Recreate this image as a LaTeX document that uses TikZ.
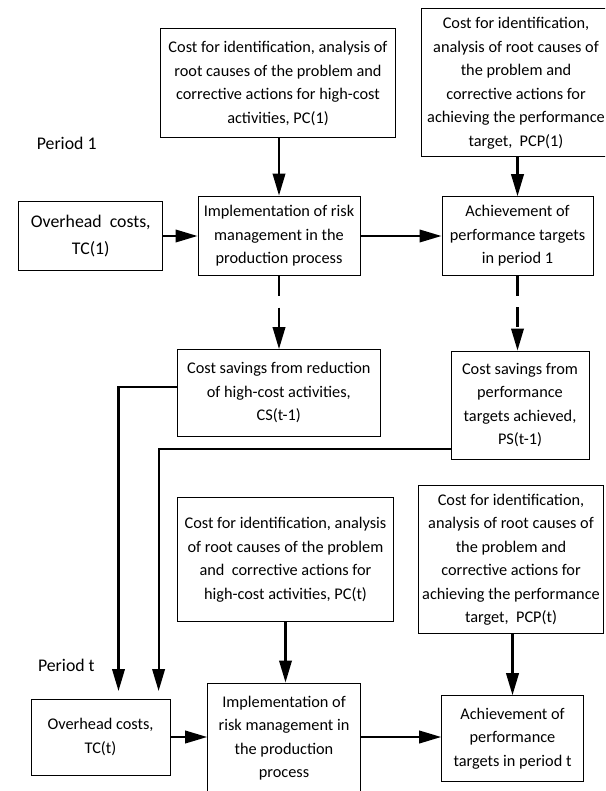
\documentclass[tikz,border=0pt]{standalone}
\usepackage{fontspec}
\setmainfont{Carlito}
\usetikzlibrary{arrows.meta,calc}
\begin{document}
\begin{tikzpicture}[x=1pt,y=-1pt,
  txt/.style={font=\fontsize{16.3}{23.5}\selectfont},
  bigtxt/.style={font=\fontsize{17.8}{27}\selectfont},
  box/.style={txt,draw,line width=1pt,align=center,inner sep=0pt},
  conn/.style={line width=2.2pt,-{Triangle[length=22pt,width=12.5pt]}},
  dconn/.style={conn,dash pattern=on 20pt off 11.5pt},
  lbl/.style={bigtxt,anchor=west,inner sep=0pt}]
\useasboundingbox (0,0) rectangle (605,791);
\clip (0,0) rectangle (605,791);
% Period 1
\node[lbl] (p1) at (36.6,143) {Period 1};
\node[box,minimum width=235pt,minimum height=109pt] (pc1) at (278,83.3)
  {Cost for identification, analysis of\\root causes of the problem and\\corrective actions for high-cost\\activities, PC(1)};
\node[box,minimum width=190pt,minimum height=148pt] (pcp1) at (516,83)
  {Cost for identification,\\analysis of root causes of\\the problem and\\corrective actions for\\achieving the performance\\target,~ PCP(1)};
\node[box,bigtxt,minimum width=144pt,minimum height=68pt] (tc1) at (90.8,236)
  {Overhead~ costs,\\TC(1)};
\node[box,minimum width=162pt,minimum height=79.5pt] (im1) at (279,235.8)
  {Implementation of risk\\management in the\\production process};
\node[box,minimum width=151pt,minimum height=78.5pt] (ac1) at (517.5,236)
  {Achievement of\\performance targets\\in period 1};
\node[box,minimum width=202.5pt,minimum height=86.5pt] (cs) at (278.8,392.8)
  {Cost savings from reduction\\of high-cost activities,\\CS(t-1)};
\node[box,minimum width=138pt,minimum height=108pt] (ps) at (520,405)
  {Cost savings from\\performance\\targets achieved,\\PS(t-1)};
% Period t
\node[lbl] (pt) at (37.8,665.7) {Period t};
\node[box,minimum width=216pt,minimum height=124pt] (pct) at (285.5,559.7)
  {Cost for identification, analysis\\of root causes of the problem\\and~ corrective actions for\\high-cost activities, PC(t)};
\node[box,minimum width=185pt,minimum height=148pt] (pcpt) at (511,559.7)
  {Cost for identification,\\analysis of root causes of\\the problem and\\corrective actions for\\achieving the performance\\target,~ PCP(t)};
\node[box,minimum width=139pt,minimum height=76pt] (tct) at (100.5,737)
  {Overhead costs,\\TC(t)};
\node[box,minimum width=152.7pt,minimum height=110pt] (imt) at (284,738)
  {Implementation of\\risk management in\\the production\\process};
\node[box,minimum width=141.6pt,minimum height=86pt] (act) at (512.5,738.7)
  {Achievement of\\performance\\targets in period t};
% helper coordinates
\coordinate (csy) at (0,386.7);
\coordinate (csx) at (118.5,0);
\coordinate (psy) at (0,448.7);
\coordinate (psx) at (158.6,0);
% connectors period 1
\draw[conn] (pc1.south -| im1.north) -- (im1.north);
\draw[conn] (pcp1.south -| ac1.north) -- (ac1.north);
\draw[conn] (tc1.east) -- (tc1.east -| im1.west);
\draw[conn] (im1.east |- tc1.east) -- (ac1.west |- tc1.east);
\draw[dconn] (im1.south) -- (im1.south |- cs.north);
\draw[dconn] (ac1.south) -- (ac1.south |- ps.north);
% feedback
\draw[conn,shorten >=7.5pt] (cs.west |- csy) -- (csx |- csy) -- (csx |- tct.north);
\draw[conn,shorten >=7.5pt] (ps.west |- psy) -- (psx |- psy) -- (psx |- tct.north);
% connectors period t
\draw[conn] (pct.south) -- (pct.south |- imt.north);
\draw[conn] (pcpt.south -| act.north) -- (act.north);
\draw[conn] (tct.east) -- (tct.east -| imt.west);
\draw[conn] (imt.east |- tct.east) -- (act.west |- tct.east);
\end{tikzpicture}
\end{document}
